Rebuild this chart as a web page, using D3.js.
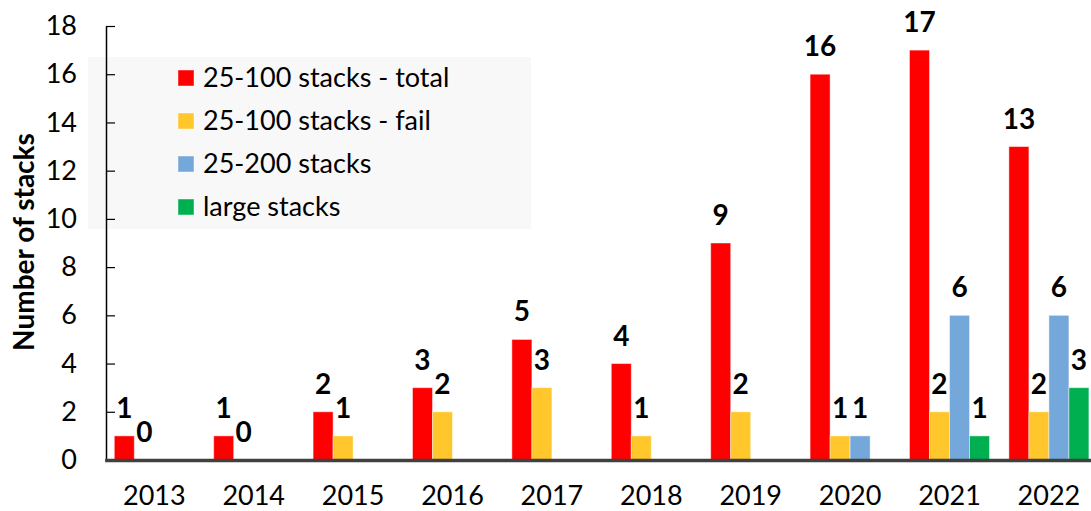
<!DOCTYPE html>
<html>
<head>
<meta charset="utf-8">
<script src="https://cdn.jsdelivr.net/npm/d3@7"></script>
<style>
  html, body { margin: 0; padding: 0; background: #fff; }
  svg { display: block; font-family: Lato, "Open Sans", sans-serif; }
</style>
</head>
<body>
<svg id="chart" width="1091" height="511"></svg>
<script>
const years = ["2013","2014","2015","2016","2017","2018","2019","2020","2021","2022"];
const seriesNames = ["25-100 stacks - total","25-100 stacks - fail","25-200 stacks","large stacks"];
const seriesColors = ["#FF0000","#FFC72C","#74A7DA","#00B050"];
const total100 = [1,1,2,3,5,4,9,16,17,13];
const fail100  = [0,0,1,2,3,1,2,1,2,2];
const stacks200 = [null,null,null,null,null,null,null,1,6,6];
const largeStacks = [null,null,null,null,null,null,null,null,1,3];
const yTicks = [0,2,4,6,8,10,12,14,16,18];
const yTitle = "Number of stacks";

const seriesValues = [total100, fail100, stacks200, largeStacks];

const svg = d3.select("#chart");

const y = d3.scaleLinear().domain([0, 18]).range([460, 26]);
const x0 = d3.scaleBand().domain(years).range([104.6, 1098.6]).paddingInner(0.195).paddingOuter(0.0975);
const x1 = d3.scaleBand().domain(seriesNames).range([0, x0.bandwidth()]);

// legend background
const lg = svg.append("g");
lg.append("rect").attr("x", 88).attr("y", 57).attr("width", 443).attr("height", 172).attr("fill", "#f8f8f8");
seriesNames.forEach((name, i) => {
  const cy = 78 + i * 43;
  lg.append("rect").attr("x", 178).attr("y", cy - 8).attr("width", 16).attr("height", 16)
    .attr("fill", seriesColors[i]).attr("stroke", "rgba(255,255,255,0.45)").attr("stroke-width", 1);
  lg.append("text").attr("x", 203).attr("y", cy).attr("dy", "0.35em")
    .attr("font-size", 27).attr("fill", "#000").text(name);
});

// y axis
const yAxis = svg.append("g").attr("transform", "translate(106,0)")
  .call(d3.axisLeft(y).tickValues(yTicks).tickSizeInner(-9).tickSizeOuter(0).tickPadding(29));
yAxis.select(".domain").attr("stroke", "#000").attr("stroke-width", 1.5);
yAxis.selectAll(".tick line").attr("stroke", "#000").attr("stroke-width", 1.2);
yAxis.selectAll(".tick text").attr("font-size", 27).attr("font-family", "Lato, sans-serif").attr("fill", "#000");

// bars
const groups = svg.append("g");
seriesNames.forEach((name, si) => {
  const vals = seriesValues[si];
  const data = years.map((yr, i) => ({yr, v: vals[i]})).filter(d => d.v !== null);
  groups.selectAll(null).data(data).enter().append("rect")
    .attr("x", d => x0(d.yr) + x1(name))
    .attr("y", d => y(d.v))
    .attr("width", x1.bandwidth())
    .attr("height", d => y(0) - y(d.v))
    .attr("fill", seriesColors[si])
    .attr("stroke", "rgba(255,255,255,0.45)")
    .attr("stroke-width", 1);
  groups.selectAll(null).data(data).enter().append("text")
    .attr("x", d => x0(d.yr) + x1(name) + x1.bandwidth() / 2)
    .attr("y", d => y(d.v) - 18)
    .attr("text-anchor", "middle")
    .attr("font-size", 28).attr("font-weight", "bold").attr("fill", "#000")
    .text(d => d.v);
});

// x axis
const xAxis = svg.append("g").attr("transform", "translate(0,460)")
  .call(d3.axisBottom(x0).tickSize(0).tickPadding(26));
xAxis.select(".domain").attr("stroke", "#404040").attr("stroke-width", 3.5);
xAxis.selectAll(".tick text").attr("font-size", 27).attr("font-family", "Lato, sans-serif").attr("fill", "#000");

// y title
svg.append("text")
  .attr("transform", "translate(34,242) rotate(-90)")
  .attr("text-anchor", "middle")
  .attr("font-size", 28).attr("font-weight", "bold").attr("fill", "#000")
  .text(yTitle);
</script>
</body>
</html>
